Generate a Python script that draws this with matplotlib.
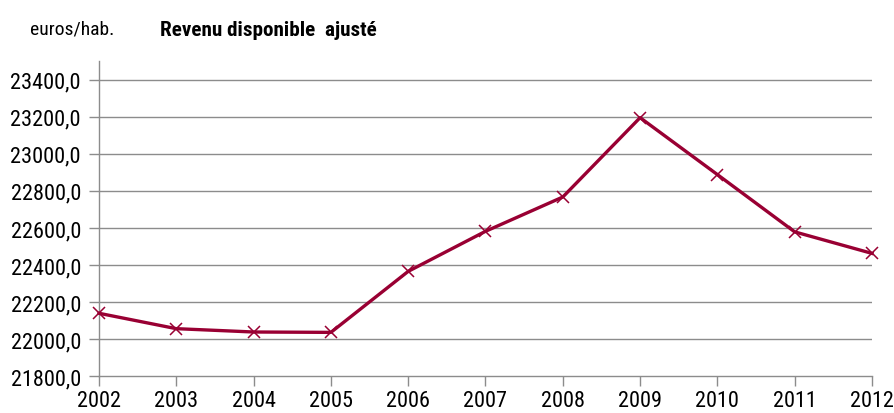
import matplotlib
matplotlib.use("Agg")
import matplotlib.pyplot as plt
from matplotlib.ticker import FuncFormatter
from matplotlib import font_manager

years = [2002, 2003, 2004, 2005, 2006, 2007, 2008, 2009, 2010, 2011, 2012]
values = [22140, 22057, 22039, 22037, 22366, 22582, 22767, 23195, 22888, 22579, 22463]
yticks = [21800, 22000, 22200, 22400, 22600, 22800, 23000, 23200, 23400]

names = {f.name for f in font_manager.fontManager.ttflist}
fam = [n for n in ["Liberation Sans Narrow", "Roboto Condensed", "Liberation Sans"] if n in names] + ["DejaVu Sans"]
plt.rcParams['font.family'] = fam

fig = plt.figure(figsize=(8.95, 4.14), dpi=100)
ax = fig.add_axes([0.1106, 0.0886, 0.9743 - 0.1106, 0.850 - 0.0886])

color = "#990033"
ax.plot(years, values, color=color, lw=2.4, marker='x', ms=8, mew=1.1, zorder=3, clip_on=False)

ax.set_xlim(2002, 2012)
ax.set_ylim(21800, 23500)
ax.set_yticks(yticks)
ax.set_xticks(years)
ax.yaxis.set_major_formatter(FuncFormatter(lambda v, p: f"{v:.1f}".replace('.', ',')))

for y in yticks[1:]:
    ax.axhline(y, color="#8c8c8c", lw=1.0, zorder=1)

for s in ['top', 'right']:
    ax.spines[s].set_visible(False)
for s in ['left', 'bottom']:
    ax.spines[s].set_color("#8c8c8c")
    ax.spines[s].set_linewidth(1.0)

ax.tick_params(axis='both', colors="#8c8c8c", length=7, width=1.0, labelsize=16, labelcolor="black")
ax.tick_params(axis='y', pad=6)
ax.tick_params(axis='x', pad=3)

fig.text(30/895, 1 - 30/414, "euros/hab.", fontsize=14, va='center', ha='left')
fig.text(160/895, 1 - 30/414, "Revenu disponible  ajusté", fontsize=15.2, fontweight='bold', va='center', ha='left')

fig.savefig("out.png", dpi=100)
